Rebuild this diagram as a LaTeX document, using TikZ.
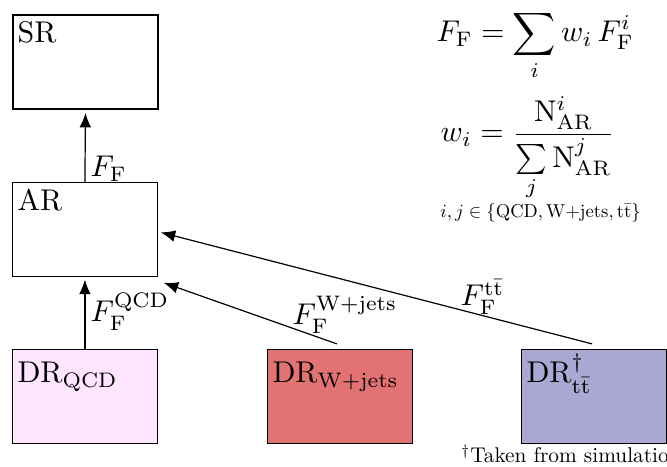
\documentclass[tikz,border=0pt]{standalone}
\usetikzlibrary{arrows.meta,calc}
\definecolor{qcdpink}{RGB}{255,229,255}
\definecolor{wred}{RGB}{227,115,115}
\definecolor{ttblue}{RGB}{168,168,211}
\begin{document}
\begin{tikzpicture}[x=0.33333pt,y=-0.33333pt,
  region/.style={draw,line width=0.4pt,minimum width=48.2pt,minimum height=31.2pt,anchor=north west,inner sep=0pt},
  arr/.style={-{Latex[length=4.8pt,width=3.9pt]},line width=0.4pt},
  lbl/.style={anchor=base west,inner sep=0pt}]
\useasboundingbox (0,0) rectangle (667,467);
% boxes
\node[region, line width=0.8pt] (SR) at (12,14) {};
\node[region] (AR) at (12,182) {};
\node[region, fill=qcdpink] (QCD) at (12,349) {};
\node[region, fill=wred] (W) at (267,349) {};
\node[region, fill=ttblue] (TT) at (521,349) {};
% box texts
\node[lbl] (SRt) at (17,43) {SR};
\node[lbl] (ARt) at (17,211) {AR};
\node[lbl] (QCDt) at (17,383) {$\mathrm{DR}_\mathrm{QCD}$};
\node[lbl] (Wt) at (272,383) {$\mathrm{DR}_\mathrm{W+jets}$};
\node[lbl] (TTt) at (526,383) {$\mathrm{DR}^\dagger_{\mathrm{t\bar t}}$};
% connectors
\draw[arr, shorten >=1pt] (AR.north) -- (SR.south);
\draw[arr, shorten >=1pt] (QCD.north) -- (AR.south);
\draw[arr] ([shift={(-1pt,1.7pt)}]W.north) -- ([shift={(2pt,-2pt)}]AR.south east);
\draw[arr] ([shift={(-0.6pt,1.7pt)}]TT.north) -- ([shift={(1pt,-1pt)}]AR.east);
% connector labels
\node[lbl] (lFF) at (90,177) {$F_\mathrm{F}$};
\node[lbl] (lQCD) at (90,322) {$F_\mathrm{F}^\mathrm{QCD}$};
\node[lbl] (lW) at (292,325) {$F_\mathrm{F}^\mathrm{W+jets}$};
\node[lbl] (lTT) at (460,306) {$F_\mathrm{F}^{\mathrm{t\bar t}}$};
% formulas
\node[lbl] (eq1) at (436,42) {$\displaystyle F_\mathrm{F} = \sum_i w_i\, F_\mathrm{F}^i$};
\node[lbl] (eq2) at (440,142) {$\displaystyle w_i = \frac{\mathrm{N}^i_\mathrm{AR}}{\sum\limits_j \mathrm{N}^j_\mathrm{AR}}$};
\node[lbl, scale=0.62] (eq3) at (440,218) {$i,j\in\{\mathrm{QCD},\mathrm{W{+}jets},\mathrm{t\bar t}\}$};
\node[lbl, scale=0.71] (note) at (461,463) {$^\dagger$Taken from simulation};
\end{tikzpicture}
\end{document}
